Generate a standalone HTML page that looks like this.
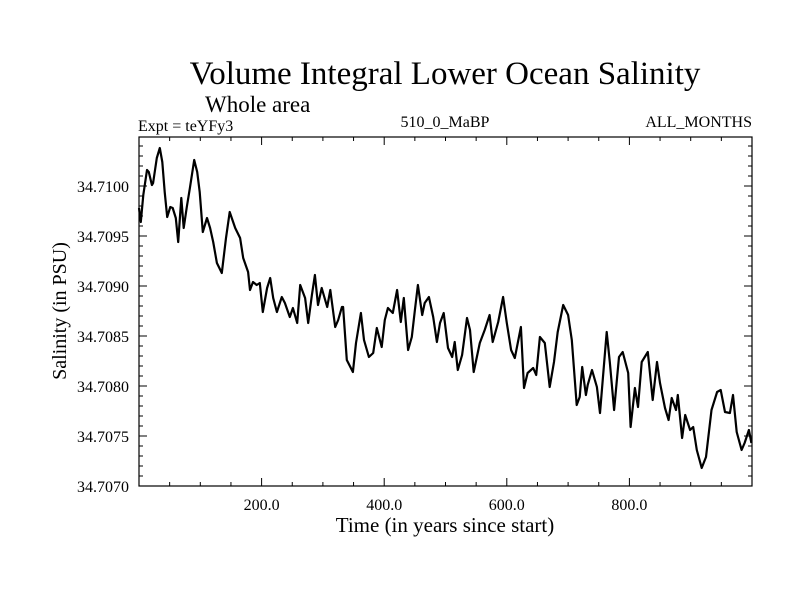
<!DOCTYPE html>
<html><head><meta charset="utf-8"><style>
body{margin:0;background:#fff}
svg text{font-family:"Liberation Serif",serif;fill:#000}
</style></head><body>
<svg id="chart" width="800" height="600" xmlns="http://www.w3.org/2000/svg">
<rect width="800" height="600" fill="#fff"/>
<text x="445" y="84" font-size="33" text-anchor="middle">Volume Integral Lower Ocean Salinity</text>
<text x="205" y="112" font-size="23">Whole area</text>
<text x="138" y="131" font-size="16">Expt = teYFy3</text>
<text x="445" y="127" font-size="16" text-anchor="middle">510_0_MaBP</text>
<text x="752" y="127" font-size="16" text-anchor="end">ALL_MONTHS</text>
<text x="445" y="532" font-size="21" text-anchor="middle">Time (in years since start)</text>
<text transform="translate(66,311) rotate(-90)" font-size="20" text-anchor="middle">Salinity (in PSU)</text>
<g id="axes"></g>
<path id="series" fill="none" stroke="#000" stroke-width="2.2" stroke-linejoin="round"/>
<rect x="139" y="137" width="613" height="349" fill="none" stroke="#000" stroke-width="1.2"/>
</svg>
<script>
const years=[0,3,7,13,16,21,23,29,34,38,42,46,51,55,60,64,69,73,78,83,90,95,99,104,111,116,121,127,135,142,148,157,165,170,178,181,186,192,197,202,209,214,219,225,233,238,246,251,258,263,271,276,282,287,292,298,307,312,320,325,331,333,339,349,354,362,367,375,382,388,396,401,406,414,421,427,432,439,445,450,455,462,466,473,480,486,491,497,504,511,515,520,527,535,540,546,556,564,572,577,586,594,600,607,613,623,628,634,643,648,654,662,670,677,683,692,700,706,714,719,723,729,732,739,747,752,763,768,775,783,789,798,802,809,814,820,830,838,845,850,858,864,869,876,879,886,891,899,904,910,918,925,934,943,949,956,964,969,975,983,988,995,999];
const salinity=[34.70978,34.70964,34.70991,34.71016,34.71014,34.71001,34.71003,34.71028,34.71038,34.71024,34.70994,34.70969,34.70979,34.70978,34.70968,34.70944,34.70988,34.70958,34.70979,34.70998,34.71026,34.71014,34.70994,34.70954,34.70968,34.70958,34.70944,34.70923,34.70913,34.70948,34.70974,34.70958,34.70948,34.70928,34.70914,34.70896,34.70904,34.70901,34.70903,34.70874,34.70898,34.70908,34.70888,34.70874,34.70889,34.70883,34.70869,34.70878,34.70863,34.70901,34.70888,34.70863,34.70891,34.70911,34.70881,34.70898,34.70879,34.70896,34.70859,34.70866,34.70879,34.70879,34.70826,34.70814,34.70843,34.70873,34.70846,34.70829,34.70833,34.70858,34.70839,34.70866,34.70878,34.70873,34.70896,34.70864,34.70888,34.70836,34.70849,34.70876,34.70901,34.70871,34.70883,34.70889,34.70869,34.70844,34.70863,34.70873,34.70838,34.70829,34.70844,34.70816,34.70831,34.70868,34.70856,34.70814,34.70843,34.70856,34.70871,34.70844,34.70864,34.70889,34.70863,34.70836,34.70828,34.70859,34.70798,34.70813,34.70818,34.70811,34.70849,34.70843,34.70799,34.70824,34.70854,34.70881,34.70871,34.70846,34.70781,34.70789,34.70819,34.70791,34.70801,34.70816,34.70799,34.70773,34.70854,34.70824,34.70776,34.70829,34.70834,34.70813,34.70759,34.70798,34.70779,34.70824,34.70834,34.70786,34.70824,34.70803,34.70778,34.70766,34.70788,34.70776,34.70791,34.70748,34.70771,34.70756,34.70759,34.70736,34.70718,34.70729,34.70776,34.70794,34.70796,34.70774,34.70773,34.70791,34.70754,34.70736,34.70743,34.70756,34.70743];
const xTickValues=[200,400,600,800];
const xTickLabels=["200.0","400.0","600.0","800.0"];
const yTickValues=[34.7070,34.7075,34.7080,34.7085,34.7090,34.7095,34.7100];
const yTickLabels=["34.7070","34.7075","34.7080","34.7085","34.7090","34.7095","34.7100"];

const L=139,R=752,T=137,B=486,X0=0,X1=1000,Y0=34.7070,Y1=34.71049;
function sx(v){return L+(v-X0)/(X1-X0)*(R-L);}
function sy(v){return B-(v-Y0)/(Y1-Y0)*(B-T);}
const NS="http://www.w3.org/2000/svg";
const ax=document.getElementById('axes');
function line(x1,y1,x2,y2,name){const l=document.createElementNS(NS,'line');
l.setAttribute('x1',x1);l.setAttribute('y1',y1);l.setAttribute('x2',x2);l.setAttribute('y2',y2);
l.setAttribute('stroke','#000');l.setAttribute('stroke-width','1');


ax.appendChild(l);}
for(let v=50;v<X1;v+=50){const x=sx(v);const major=v%200===0;const len=major?8:4;
line(x,B,x,B-len,'x-tick');line(x,T,x,T+len,'x-tick-top');}
for(let i=1;i<35;i++){const v=Y0+i*0.0001;if(v>Y1)break;const y=sy(v);const major=i%5===0;const len=major?8:4;
line(L,y,L+len,y,'y-tick');line(R,y,R-len,y,'y-tick-right');}
xTickValues.forEach((v,i)=>{const t=document.createElementNS(NS,'text');
t.setAttribute('x',sx(v));t.setAttribute('y',510);t.setAttribute('font-size','16');t.setAttribute('text-anchor','middle');
t.textContent=xTickLabels[i];


ax.appendChild(t);});
yTickValues.forEach((v,i)=>{const t=document.createElementNS(NS,'text');
t.setAttribute('x',129);t.setAttribute('y',sy(v)+6);t.setAttribute('font-size','16');t.setAttribute('text-anchor','end');
t.textContent=yTickLabels[i];


ax.appendChild(t);});
let d='';years.forEach((yr,i)=>{d+=(i?'L':'M')+sx(yr).toFixed(1)+','+sy(salinity[i]).toFixed(1);});
document.getElementById('series').setAttribute('d',d);
</script>
</body></html>
